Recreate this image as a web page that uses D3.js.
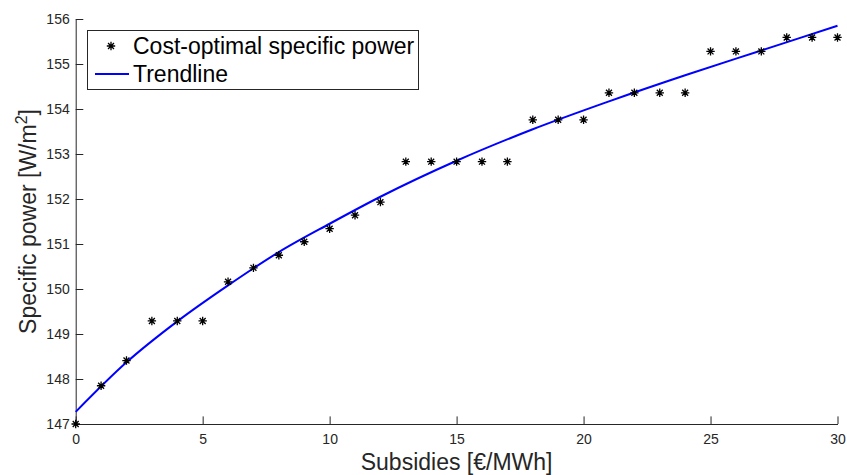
<!DOCTYPE html>
<html>
<head>
<meta charset="utf-8">
<script src="https://cdn.jsdelivr.net/npm/d3@7"></script>
<style>
  html, body { margin: 0; padding: 0; background: #ffffff; }
  svg { display: block; font-family: "Liberation Sans", Arial, Helvetica, sans-serif; }
</style>
</head>
<body>
<svg id="chart" width="847" height="475"></svg>
<script>
// Cost-optimal specific power for each subsidy level
const subsidies = [0, 1, 2, 3, 4, 5, 6, 7, 8, 9, 10, 11, 12, 13, 14, 15,
                   16, 17, 18, 19, 20, 21, 22, 23, 24, 25, 26, 27, 28, 29, 30];
const specificPower = [147.00, 147.85, 148.41, 149.29, 149.29, 149.29, 150.16, 150.47,
                       150.75, 151.05, 151.34, 151.64, 151.93, 152.83, 152.83, 152.83,
                       152.83, 152.83, 153.76, 153.76, 153.76, 154.36, 154.36, 154.36,
                       154.36, 155.28, 155.28, 155.28, 155.59, 155.59, 155.59];

// Fitted trendline, sampled along the subsidy range
const trendX = [0, 2, 4, 6, 8, 10, 12, 15, 18, 21, 24, 27, 30];
const trendY = [147.27, 148.37, 149.28, 150.08, 150.82, 151.45, 152.05,
                152.85, 153.55, 154.17, 154.75, 155.30, 155.85];

const xTicks = [0, 5, 10, 15, 20, 25, 30];
const yTicks = [147, 148, 149, 150, 151, 152, 153, 154, 155, 156];

const legendLabels = ["Cost-optimal specific power", "Trendline"];

const axisColor = "#262626";
const svg = d3.select("#chart");

const plot = { left: 75.7, right: 837.5, top: 19, bottom: 424 };

const x = d3.scaleLinear().domain([0, 30]).range([plot.left, plot.right]);
const y = d3.scaleLinear().domain([147, 156]).range([plot.bottom, plot.top]);

const tickLen = 7.6;

// Axes (ticks point inward, no box)
const xAxis = svg.append("g")
  .attr("transform", `translate(0,${plot.bottom})`)
  .call(d3.axisBottom(x).tickValues(xTicks).tickSizeInner(-tickLen).tickSizeOuter(0).tickPadding(10));
const yAxis = svg.append("g")
  .attr("transform", `translate(${plot.left},0)`)
  .call(d3.axisLeft(y).tickValues(yTicks).tickSizeInner(-tickLen).tickSizeOuter(0).tickPadding(6));

[xAxis, yAxis].forEach(g => {
  g.select(".domain").attr("stroke", axisColor).attr("stroke-width", 1);
  g.selectAll(".tick line").attr("stroke", axisColor).attr("stroke-width", 1);
  g.selectAll(".tick text")
    .attr("fill", axisColor)
    .style("font-size", "14px")
    .style("font-family", "'Liberation Sans', Arial, sans-serif");
});

// Axis titles
svg.append("text")
  .attr("x", (plot.left + plot.right) / 2)
  .attr("y", 470)
  .attr("text-anchor", "middle")
  .attr("fill", axisColor)
  .style("font-size", "23px")
  .text("Subsidies [€/MWh]");

const yLabel = svg.append("text")
  .attr("transform", `translate(36,${(plot.top + plot.bottom) / 2}) rotate(-90)`)
  .attr("text-anchor", "middle")
  .attr("fill", axisColor)
  .style("font-size", "23px");
yLabel.append("tspan").text("Specific power [W/m");
yLabel.append("tspan").attr("dy", -9).style("font-size", "16px").text("2");
yLabel.append("tspan").attr("dy", 9).text("]");

// Trendline
const line = d3.line()
  .x((d, i) => x(trendX[i]))
  .y(d => y(d))
  .curve(d3.curveMonotoneX);

svg.append("path")
  .datum(trendY)
  .attr("d", line)
  .attr("fill", "none")
  .attr("stroke", "#0000ff")
  .attr("stroke-width", 2);

// Asterisk marker path (8 spokes)
function asterisk(r) {
  const d = r * Math.SQRT1_2;
  return `M${-r},0L${r},0M0,${-r}L0,${r}M${-d},${-d}L${d},${d}M${-d},${d}L${d},${-d}`;
}

svg.append("g")
  .selectAll("path")
  .data(specificPower)
  .join("path")
  .attr("transform", (d, i) => `translate(${x(subsidies[i])},${y(d)})`)
  .attr("d", asterisk(4.2))
  .attr("stroke", "#000")
  .attr("stroke-width", 1.3)
  .attr("fill", "none");

// Legend
const legend = svg.append("g");
legend.append("rect")
  .attr("x", 87.5).attr("y", 30.5)
  .attr("width", 331).attr("height", 59)
  .attr("fill", "#fff")
  .attr("stroke", axisColor)
  .attr("stroke-width", 1);

legend.append("path")
  .attr("transform", "translate(111,46)")
  .attr("d", asterisk(4.2))
  .attr("stroke", "#000")
  .attr("stroke-width", 1.3);

legend.append("line")
  .attr("x1", 95).attr("x2", 129)
  .attr("y1", 74).attr("y2", 74)
  .attr("stroke", "#0000ff")
  .attr("stroke-width", 2);

legend.selectAll("text.lg")
  .data(legendLabels)
  .join("text")
  .attr("class", "lg")
  .attr("x", 133)
  .attr("y", (d, i) => 54 + i * 28)
  .attr("fill", "#000")
  .style("font-size", "23px")
  .text(d => d);
</script>
</body>
</html>
